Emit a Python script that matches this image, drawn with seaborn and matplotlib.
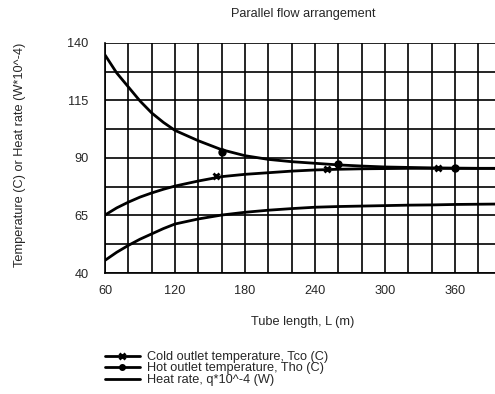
import matplotlib
matplotlib.use("Agg")
import matplotlib.pyplot as plt
import numpy as np
import pandas as pd
import seaborn as sns
from matplotlib.ticker import MultipleLocator

# --- Data -------------------------------------------------------------------
tube_length = [60, 70, 80, 90, 100, 110, 120, 140, 160, 180, 200, 220, 240,
               260, 280, 300, 320, 340, 360, 380, 400]
hot_outlet = [134.8, 127.0, 120.9, 114.8, 109.6, 105.5, 102.0, 97.5, 93.6,
              91.0, 89.4, 88.4, 87.7, 87.0, 86.5, 86.1, 85.9, 85.7, 85.6,
              85.5, 85.5]
cold_outlet = [65.2, 68.3, 70.8, 73.0, 74.8, 76.4, 77.8, 80.0, 81.9, 82.9,
               83.6, 84.3, 84.8, 85.1, 85.3, 85.4, 85.5, 85.5, 85.5, 85.5,
               85.5]
heat_rate = [45.5, 49.0, 52.0, 54.7, 57.0, 59.3, 61.3, 63.5, 65.2, 66.4,
             67.3, 68.0, 68.6, 68.9, 69.1, 69.3, 69.5, 69.6, 69.8, 69.9,
             70.0]

cold_mark_L = [155, 250, 345]
cold_mark_T = [82.0, 85.0, 85.5]
hot_mark_L = [160, 260, 360]
hot_mark_T = [92.8, 87.2, 85.6]

df = pd.DataFrame({"L": tube_length, "hot": hot_outlet,
                   "cold": cold_outlet, "q": heat_rate})

# --- Plot --------------------------------------------------------------------
sns.set_style("white")
plt.rcParams["font.family"] = ["Liberation Sans", "DejaVu Sans"]
fs = 9.2

fig = plt.figure(figsize=(4.95, 3.94), dpi=100)
ax = fig.add_axes([105 / 495, 1 - 273 / 394, 396.7 / 495, 230 / 394])

lw = 2.0
sns.lineplot(data=df, x="L", y="cold", ax=ax, color="black", linewidth=lw)
sns.lineplot(data=df, x="L", y="hot", ax=ax, color="black", linewidth=lw)
sns.lineplot(data=df, x="L", y="q", ax=ax, color="black", linewidth=lw)
ax.plot(cold_mark_L, cold_mark_T, linestyle="none", marker="x", color="black",
        markersize=5, markeredgewidth=2)
ax.plot(hot_mark_L, hot_mark_T, linestyle="none", marker="o", color="black",
        markersize=5)

ax.set_xlim(60, 400)
ax.set_ylim(40, 140)
ax.xaxis.set_major_locator(MultipleLocator(60))
ax.xaxis.set_minor_locator(MultipleLocator(20))
ax.yaxis.set_major_locator(MultipleLocator(25, offset=15))
ax.yaxis.set_minor_locator(MultipleLocator(12.5, offset=2.5))
ax.grid(which="both", color="black", linewidth=1.2)
ax.tick_params(axis="both", which="major", direction="out", length=5.8,
               width=1, color="black", labelsize=fs)
ax.tick_params(axis="x", which="major", pad=3)
ax.tick_params(axis="y", which="major", pad=6)
ax.tick_params(axis="both", which="minor", direction="out", length=3.6,
               width=1, color="black")
for side in ["top", "right"]:
    ax.spines[side].set_visible(False)
for side in ["left", "bottom"]:
    ax.spines[side].set_color("black")
    ax.spines[side].set_linewidth(1.2)

ax.set_xlabel("")
ax.set_ylabel("")
fig.text(303 / 495, 1 - 14 / 394, "Parallel flow arrangement", ha="center",
         va="center", fontsize=fs)
fig.text(303 / 495, 1 - 322 / 394, "Tube length, L (m)", ha="center",
         va="center", fontsize=fs)
fig.text(20 / 495, 1 - 155 / 394, "Temperature (C) or Heat rate (W*10^-4)",
         ha="center", va="center", rotation=90, fontsize=fs)

handles = [
    plt.Line2D([], [], color="black", linewidth=lw, marker="x",
               markersize=4, markeredgewidth=2),
    plt.Line2D([], [], color="black", linewidth=lw, marker="o",
               markersize=4),
    plt.Line2D([], [], color="black", linewidth=lw),
]
fig.legend(handles,
           ["Cold outlet temperature, Tco (C)",
            "Hot outlet temperature, Tho (C)",
            "Heat rate, q*10^-4 (W)"],
           loc="upper left", bbox_to_anchor=(105 / 495, 1 - 351 / 394),
           frameon=False, fontsize=fs, handlelength=2.7, handletextpad=0.6,
           labelspacing=-0.04, borderpad=0, borderaxespad=0)

fig.savefig("out.png", dpi=100)
